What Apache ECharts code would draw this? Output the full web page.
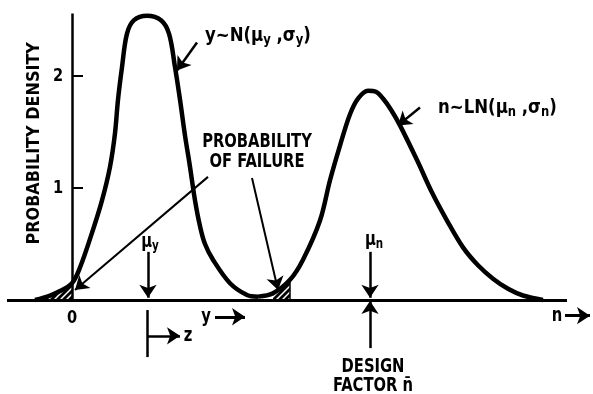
<!DOCTYPE html>
<html>
<head>
<meta charset="utf-8">
<script src="https://cdn.jsdelivr.net/npm/echarts@6/dist/echarts.min.js"></script>
<style>
  html, body { margin: 0; padding: 0; background: #fff; }
  #chart { width: 593px; height: 394px; }
</style>
</head>
<body>
<div id="chart"></div>
<script>
// --- Data: [x, probability density] ---
// y ~ N(mu_y, sigma_y)
const stressCurve = [
    [-37, 0], [-22, 0.04], [-12, 0.08], [0, 0.15], [8, 0.29], [20, 0.60],
    [30, 0.89], [38, 1.19], [43, 1.49], [46, 1.79], [50, 2.08], [55, 2.38],
    [62, 2.50], [75, 2.54], [89, 2.50], [97, 2.38], [103, 2.08], [108, 1.79],
    [113, 1.47], [118, 1.19], [123, 0.89], [128, 0.66], [133, 0.50],
    [141, 0.36], [158, 0.15], [175, 0.045], [186, 0.03]
];
// n ~ LN(mu_n, sigma_n)
const factorCurve = [
    [186, 0.03], [201, 0.06], [218, 0.18], [231, 0.36], [248, 0.71],
    [258, 1.07], [268, 1.38], [278, 1.66], [286, 1.80], [296, 1.87],
    [304, 1.86], [311, 1.80], [319, 1.70], [328, 1.56], [345, 1.25],
    [360, 0.96], [375, 0.71], [391, 0.47], [406, 0.31], [421, 0.19],
    [436, 0.10], [451, 0.04], [471, 0]
];
const yTickValues = [1, 2];
const meanY = 76;
const meanN = 298;
const hatchLeft = [-37, 0];     // shaded tail, stress curve
const hatchRight = [201, 218];  // shaded overlap, factor curve

const FONT = "'DejaVu Sans Condensed', 'Liberation Sans Narrow', sans-serif";

// hatch fill: black with white diagonal stripes
function hatchPattern() {
    const c = document.createElement('canvas');
    c.width = 6; c.height = 6;
    const g = c.getContext('2d');
    g.fillStyle = '#000';
    g.fillRect(0, 0, 6, 6);
    g.strokeStyle = '#fff';
    g.lineWidth = 1.5;
    g.beginPath();
    g.moveTo(0, 6); g.lineTo(6, 0);
    g.moveTo(-1, 1); g.lineTo(1, -1);
    g.moveTo(5, 7); g.lineTo(7, 5);
    g.stroke();
    return c;
}
const hatch = { image: hatchPattern(), repeat: 'repeat' };

const inRange = (pts, r) => pts.filter(p => p[0] >= r[0] && p[0] <= r[1]);

const rich = {
    t: { fontFamily: FONT, fontWeight: 'bold', fontSize: 20, fill: '#000' },
    s: { fontFamily: FONT, fontWeight: 'bold', fontSize: 14, fill: '#000', padding: [9, 0, 0, 0] }
};

// text annotations in data units
const notes = [
    { at: [133, 2.36], text: '{t|y~N(μ}{s|y}{t| ,σ}{s|y}{t|)}', align: 'left', sx: 0.92 },
    { at: [366, 1.72], text: '{t|n~LN(μ}{s|n}{t| ,σ}{s|n}{t|)}', align: 'left', sx: 0.92 },
    { at: [185, 1.32], text: 'PROBABILITY\nOF FAILURE', align: 'center', lineHeight: 20 },
    { at: [78, 0.52], text: '{t|μ}{s|y}', align: 'center' },
    { at: [302, 0.54], text: '{t|μ}{s|n}', align: 'center' },
    { at: [-14, 2.0], text: '2', align: 'center', size: 18, sx: 0.9 },
    { at: [-14, 1.0], text: '1', align: 'center', size: 18, sx: 0.9 },
    { at: [0, -0.165], text: '0', align: 'center', size: 18, sx: 0.9 },
    { at: [134, -0.15], text: 'y', align: 'center' },
    { at: [485, -0.14], text: 'n', align: 'center' },
    { at: [116, -0.32], text: 'z', align: 'center' },
    { at: [301, -0.68], text: 'DESIGN\nFACTOR n\u0304', align: 'center', lineHeight: 19 },
    { at: [-38, 1.40], text: 'PROBABILITY DENSITY', align: 'center', size: 18, sx: 0.99, rotate: true }
];

// arrows / plain strokes: [from, to, width, arrow?]
const strokes = [
    [[-65, 0], [495, 0], 3, false],          // baseline
    [[0, 0], [0, 2.56], 2.5, false],         // density axis
    [[218, 0], [218, 0.18], 1.5, false],     // hatch edge
    [[meanY, 0.43], [meanY, 0.02], 2.5, true],
    [[meanN, 0.43], [meanN, 0.02], 2.5, true],
    [[meanN, -0.43], [meanN, -0.01], 2.5, true],
    [[75, -0.09], [75, -0.51], 2.5, false],
    [[75, -0.32], [108, -0.32], 2.5, true],
    [[143, -0.15], [173, -0.15], 3, true],
    [[493, -0.14], [518, -0.14], 3, true],
    [[125, 2.30], [105, 2.05], 2.5, true],
    [[348, 1.72], [326, 1.56], 2.5, true],
    [[136, 1.10], [3, 0.09], 2, true],
    [[180, 1.09], [206, 0.09], 2, true]
];

const chart = echarts.init(document.getElementById('chart'));

const curveSeries = (data) => ({
    type: 'line',
    data: data,
    smooth: 0.35,
    symbol: 'none',
    silent: true,
    z: 3,
    lineStyle: { color: '#000', width: 4.5 }
});
const hatchSeries = (data) => ({
    type: 'line',
    data: data,
    smooth: 0.35,
    symbol: 'none',
    silent: true,
    z: 2,
    lineStyle: { width: 0 },
    areaStyle: { color: hatch, opacity: 1 }
});

const factorSeries = curveSeries(factorCurve);
factorSeries.markLine = {
    silent: true,
    animation: false,
    label: { show: false },
    emphasis: { disabled: true },
    data: strokes.map(s => [
        { coord: s[0], symbol: 'none',
          lineStyle: { color: '#000', width: s[2], type: 'solid' } },
        { coord: s[1], symbol: s[3] ? 'arrow' : 'none', symbolSize: 13 }
    ])
};

chart.setOption({
    animation: false,
    backgroundColor: '#fff',
    grid: { left: 7, right: 0, top: 9, bottom: 0, outerBoundsMode: 'none' },
    xAxis: {
        type: 'value', min: -65, max: 521,
        axisLine: { show: false }, axisTick: { show: false },
        axisLabel: { show: false }, splitLine: { show: false }
    },
    yAxis: {
        type: 'value', min: -0.84, max: 2.6,
        axisLine: { show: false, onZero: true },
        axisTick: { show: true, inside: true, length: 11, customValues: yTickValues,
            lineStyle: { color: '#000', width: 2 } },
        axisLabel: { show: false },
        splitLine: { show: false }
    },
    series: [
        hatchSeries(inRange(stressCurve, hatchLeft)),
        hatchSeries(inRange(factorCurve, hatchRight)),
        curveSeries(stressCurve),
        factorSeries
    ]
});

// labels placed through the grid's own scales
const toPx = p => chart.convertToPixel({ gridIndex: 0 }, p);
chart.setOption({
    graphic: notes.map(n => {
        const p = toPx(n.at);
        return {
            type: 'text',
            x: p[0], y: p[1],
            rotation: n.rotate ? Math.PI / 2 : 0,
            scaleX: n.sx || 0.82,
            silent: true,
            z: 10,
            style: {
                text: n.text,
                align: n.align,
                verticalAlign: 'middle',
                fontFamily: FONT,
                fontWeight: 'bold',
                fontSize: n.size || 20,
                lineHeight: n.lineHeight,
                fill: '#000',
                rich: rich
            }
        };
    })
});
</script>
</body>
</html>
